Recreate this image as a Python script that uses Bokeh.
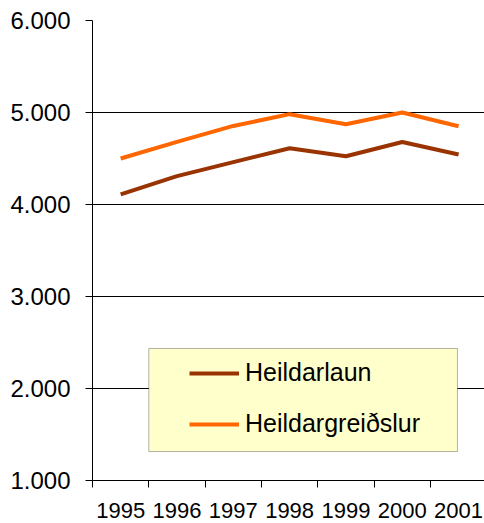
from bokeh.plotting import figure
from bokeh.models import Range1d, FixedTicker, Legend, LegendItem, BoxAnnotation
from bokeh.embed import file_html
from bokeh.resources import INLINE

years = ["1995", "1996", "1997", "1998", "1999", "2000", "2001"]
heildarlaun = [4109, 4308, 4460, 4612, 4525, 4680, 4543]
heildargreidslur = [4500, 4680, 4854, 4982, 4873, 5000, 4851]
y_ticks = [1000, 2000, 3000, 4000, 5000, 6000]
y_tick_labels = ["1.000", "2.000", "3.000", "4.000", "5.000", "6.000"]

x = [i + 0.5 for i in range(len(years))]
FONT = "Liberation Sans"

p = figure(width=484, height=523, output_backend="svg", toolbar_location=None,
           x_range=Range1d(0, 6.96), y_range=Range1d(1000, 6000),
           min_border_left=92, min_border_right=0, min_border_top=20, min_border_bottom=43)
p.outline_line_color = None
p.background_fill_color = "white"

# x axis
p.xaxis.ticker = FixedTicker(ticks=x, minor_ticks=list(range(len(years) + 1)))
p.xaxis.major_label_overrides = {xi: yr for xi, yr in zip(x, years)}
p.xaxis.major_tick_out = 0
p.xaxis.major_tick_in = 0
p.xaxis.minor_tick_out = 7
p.xaxis.minor_tick_in = 0
p.xaxis.minor_tick_line_color = "black"
p.xaxis.axis_line_color = "black"
p.xaxis.major_label_standoff = 15
p.xaxis.major_label_text_font = FONT
p.xaxis.major_label_text_font_size = "22px"
p.xaxis.major_label_text_color = "black"

# y axis
p.yaxis.ticker = FixedTicker(ticks=y_ticks)
p.yaxis.major_label_overrides = {t: l for t, l in zip(y_ticks, y_tick_labels)}
p.yaxis.major_tick_out = 7
p.yaxis.major_tick_in = 0
p.yaxis.minor_tick_line_color = None
p.yaxis.major_tick_line_color = "black"
p.yaxis.axis_line_color = "black"
p.yaxis.major_label_standoff = 15
p.yaxis.major_label_text_font = FONT
p.yaxis.major_label_text_font_size = "24px"
p.yaxis.major_label_text_color = "black"

p.xgrid.visible = False
p.ygrid.ticker = FixedTicker(ticks=y_ticks)
p.ygrid.grid_line_color = "black"
p.ygrid.grid_line_alpha = 1
p.ygrid.grid_line_width = 1

r1 = p.line(x, heildarlaun, line_width=4, line_color="#993300")
r2 = p.line(x, heildargreidslur, line_width=4, line_color="#FF6600")

box = BoxAnnotation(left=1.0, right=6.48, bottom=1315, top=2435,
                    fill_color="#FFFFCC", fill_alpha=1, line_color="black", line_width=1)
p.add_layout(box)

legend = Legend(items=[LegendItem(label="Heildarlaun", renderers=[r1]),
                       LegendItem(label="Heildargreiðslur", renderers=[r2])],
                location=(97, 42), orientation="vertical", padding=0, margin=0,
                spacing=22, glyph_width=50, glyph_height=28, label_height=28,
                label_standoff=6, label_text_font=FONT, label_text_font_size="25px",
                label_text_color="black", background_fill_alpha=0, border_line_color=None)
p.add_layout(legend)

open("out.html", "w").write(file_html(p, INLINE))
